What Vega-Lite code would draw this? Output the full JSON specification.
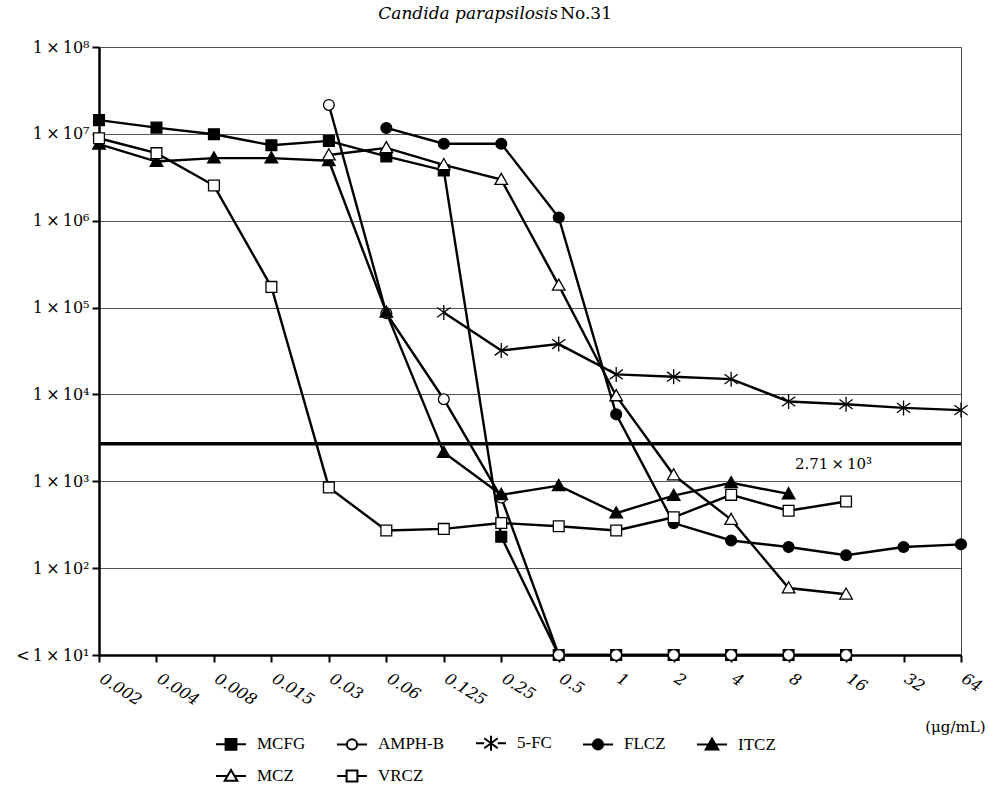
{
  "$schema": "https://vega.github.io/schema/vega-lite/v6.json",
  "autosize": "none",
  "padding": {"left": 99, "top": 47, "right": 28, "bottom": 140},
  "width": 862,
  "height": 608,
  "background": "white",
  "config": {
    "view": {"stroke": "#444", "strokeWidth": 1},
    "legend": {
      "orient": "none",
      "legendX": 116,
      "legendY": 680,
      "columns": 5,
      "direction": "horizontal",
      "symbolSize": 900,
      "symbolStrokeWidth": 2,
      "labelFont": "Liberation Serif",
      "labelFontSize": 17,
      "labelColor": "black",
      "labelOffset": 10,
      "columnPadding": 27,
      "rowPadding": 5,
      "title": null
    }
  },
  "title": {
    "text": "Candida parapsilosis\u00a0\u00a0\u00a0\u00a0\u00a0\u00a0\u00a0\u00a0\u00a0\u00a0\u200b",
    "subtitle": "No.31",
    "font": "DejaVu Serif",
    "fontSize": 17,
    "fontStyle": "italic",
    "fontWeight": "normal",
    "color": "black",
    "subtitleFont": "DejaVu Serif",
    "subtitleFontSize": 17,
    "subtitleFontStyle": "normal",
    "subtitleColor": "black",
    "subtitlePadding": -17,
    "anchor": "middle",
    "align": "right",
    "dx": 82,
    "offset": 16
  },
  "datasets": {
    "cfu": [
      {"drug": "MCFG", "conc": 0.002, "cfu": 14400000},
      {"drug": "MCFG", "conc": 0.004, "cfu": 11800000},
      {"drug": "MCFG", "conc": 0.008, "cfu": 9900000},
      {"drug": "MCFG", "conc": 0.015, "cfu": 7400000},
      {"drug": "MCFG", "conc": 0.03, "cfu": 8300000},
      {"drug": "MCFG", "conc": 0.06, "cfu": 5500000},
      {"drug": "MCFG", "conc": 0.125, "cfu": 3800000},
      {"drug": "MCFG", "conc": 0.25, "cfu": 230},
      {"drug": "MCFG", "conc": 0.5, "cfu": 10},
      {"drug": "MCFG", "conc": 1, "cfu": 10},
      {"drug": "MCFG", "conc": 2, "cfu": 10},
      {"drug": "MCFG", "conc": 4, "cfu": 10},
      {"drug": "MCFG", "conc": 8, "cfu": 10},
      {"drug": "MCFG", "conc": 16, "cfu": 10},
      {"drug": "AMPH-B", "conc": 0.03, "cfu": 21500000},
      {"drug": "AMPH-B", "conc": 0.06, "cfu": 86000},
      {"drug": "AMPH-B", "conc": 0.125, "cfu": 8800},
      {"drug": "AMPH-B", "conc": 0.25, "cfu": 650},
      {"drug": "AMPH-B", "conc": 0.5, "cfu": 10},
      {"drug": "AMPH-B", "conc": 1, "cfu": 10},
      {"drug": "AMPH-B", "conc": 2, "cfu": 10},
      {"drug": "AMPH-B", "conc": 4, "cfu": 10},
      {"drug": "AMPH-B", "conc": 8, "cfu": 10},
      {"drug": "AMPH-B", "conc": 16, "cfu": 10},
      {"drug": "5-FC", "conc": 0.125, "cfu": 88000},
      {"drug": "5-FC", "conc": 0.25, "cfu": 32000},
      {"drug": "5-FC", "conc": 0.5, "cfu": 38000},
      {"drug": "5-FC", "conc": 1, "cfu": 17000},
      {"drug": "5-FC", "conc": 2, "cfu": 16000},
      {"drug": "5-FC", "conc": 4, "cfu": 15000},
      {"drug": "5-FC", "conc": 8, "cfu": 8300},
      {"drug": "5-FC", "conc": 16, "cfu": 7700},
      {"drug": "5-FC", "conc": 32, "cfu": 7000},
      {"drug": "5-FC", "conc": 64, "cfu": 6600},
      {"drug": "FLCZ", "conc": 0.06, "cfu": 11700000},
      {"drug": "FLCZ", "conc": 0.125, "cfu": 7700000},
      {"drug": "FLCZ", "conc": 0.25, "cfu": 7700000},
      {"drug": "FLCZ", "conc": 0.5, "cfu": 1090000},
      {"drug": "FLCZ", "conc": 1, "cfu": 5900},
      {"drug": "FLCZ", "conc": 2, "cfu": 330},
      {"drug": "FLCZ", "conc": 4, "cfu": 208},
      {"drug": "FLCZ", "conc": 8, "cfu": 175},
      {"drug": "FLCZ", "conc": 16, "cfu": 141},
      {"drug": "FLCZ", "conc": 32, "cfu": 175},
      {"drug": "FLCZ", "conc": 64, "cfu": 188},
      {"drug": "ITCZ", "conc": 0.002, "cfu": 7600000},
      {"drug": "ITCZ", "conc": 0.004, "cfu": 4800000},
      {"drug": "ITCZ", "conc": 0.008, "cfu": 5250000},
      {"drug": "ITCZ", "conc": 0.015, "cfu": 5250000},
      {"drug": "ITCZ", "conc": 0.03, "cfu": 4900000},
      {"drug": "ITCZ", "conc": 0.06, "cfu": 88000},
      {"drug": "ITCZ", "conc": 0.125, "cfu": 2140},
      {"drug": "ITCZ", "conc": 0.25, "cfu": 700},
      {"drug": "ITCZ", "conc": 0.5, "cfu": 890},
      {"drug": "ITCZ", "conc": 1, "cfu": 430},
      {"drug": "ITCZ", "conc": 2, "cfu": 685},
      {"drug": "ITCZ", "conc": 4, "cfu": 960},
      {"drug": "ITCZ", "conc": 8, "cfu": 715},
      {"drug": "MCZ", "conc": 0.03, "cfu": 5700000},
      {"drug": "MCZ", "conc": 0.06, "cfu": 6900000},
      {"drug": "MCZ", "conc": 0.125, "cfu": 4400000},
      {"drug": "MCZ", "conc": 0.25, "cfu": 2970000},
      {"drug": "MCZ", "conc": 0.5, "cfu": 180000},
      {"drug": "MCZ", "conc": 1, "cfu": 9600},
      {"drug": "MCZ", "conc": 2, "cfu": 1180},
      {"drug": "MCZ", "conc": 4, "cfu": 362},
      {"drug": "MCZ", "conc": 8, "cfu": 59},
      {"drug": "MCZ", "conc": 16, "cfu": 50},
      {"drug": "VRCZ", "conc": 0.002, "cfu": 8900000},
      {"drug": "VRCZ", "conc": 0.004, "cfu": 6000000},
      {"drug": "VRCZ", "conc": 0.008, "cfu": 2540000},
      {"drug": "VRCZ", "conc": 0.015, "cfu": 173000},
      {"drug": "VRCZ", "conc": 0.03, "cfu": 850},
      {"drug": "VRCZ", "conc": 0.06, "cfu": 271},
      {"drug": "VRCZ", "conc": 0.125, "cfu": 283},
      {"drug": "VRCZ", "conc": 0.25, "cfu": 331},
      {"drug": "VRCZ", "conc": 0.5, "cfu": 304},
      {"drug": "VRCZ", "conc": 1, "cfu": 271},
      {"drug": "VRCZ", "conc": 2, "cfu": 385},
      {"drug": "VRCZ", "conc": 4, "cfu": 698},
      {"drug": "VRCZ", "conc": 8, "cfu": 458},
      {"drug": "VRCZ", "conc": 16, "cfu": 585}
    ],
    "limit": [
      {"cfu": 2710, "conc": 16, "label": "2.71\u2009×\u200910³"}
    ]
  },
  "encoding": {
    "x": {
      "field": "conc",
      "type": "ordinal",
      "scale": {"type": "point", "padding": 0, "domain": [0.002, 0.004, 0.008, 0.015, 0.03, 0.06, 0.125, 0.25, 0.5, 1, 2, 4, 8, 16, 32, 64]},
      "axis": {
        "title": "(μg/mL)",
        "titleFont": "DejaVu Serif",
        "titleFontSize": 15,
        "titleFontWeight": "normal",
        "titleColor": "black",
        "titleX": 886,
        "titleY": 71,
        "titleAlign": "right",
        "titleBaseline": "middle",
        "labelFont": "DejaVu Serif",
        "labelFontSize": 16,
        "labelFontStyle": "italic",
        "labelColor": "black",
        "labelAngle": 32,
        "labelAlign": "left",
        "labelBaseline": "top",
        "labelPadding": 8,
        "labelOffset": 6,
        "labelOverlap": false,
        "domainColor": "black",
        "domainWidth": 2.5,
        "tickColor": "black",
        "tickWidth": 2,
        "tickSize": 7,
        "grid": false
      }
    },
    "y": {
      "field": "cfu",
      "type": "quantitative",
      "scale": {"type": "log", "domain": [10, 100000000], "nice": false},
      "axis": {
        "title": null,
        "values": [10, 100, 1000, 10000, 100000, 1000000, 10000000, 100000000],
        "labelExpr": "datum.value == 10 ? '<\u20091\u2009×\u200910¹' : '1\u2009×\u200910' + ['','¹','²','³','⁴','⁵','⁶','⁷','⁸'][round(log(datum.value)/LN10)]",
        "labelFont": "DejaVu Serif",
        "labelFontSize": 16,
        "labelColor": "black",
        "labelPadding": 3,
        "domainColor": "black",
        "domainWidth": 2.5,
        "tickColor": "black",
        "tickWidth": 2,
        "tickSize": 7,
        "grid": true,
        "gridColor": "#555",
        "gridWidth": 1.2
      }
    }
  },
  "layer": [
    {
      "data": {"name": "cfu"},
      "mark": {"type": "line", "color": "black", "strokeWidth": 2.4},
      "encoding": {
        "detail": {"field": "drug"},
        "order": {"field": "conc", "type": "quantitative"}
      }
    },
    {
      "data": {"name": "limit"},
      "mark": {"type": "rule", "color": "black", "strokeWidth": 3.5},
      "encoding": {"x": null}
    },
    {
      "data": {"name": "limit"},
      "mark": {"type": "text", "font": "DejaVu Serif", "fontSize": 15, "color": "black", "align": "right", "baseline": "middle", "dx": 26, "dy": 20},
      "encoding": {"text": {"field": "label"}}
    },
    {
      "data": {"name": "cfu"},
      "mark": {"type": "point", "filled": true, "opacity": 1, "stroke": "black", "strokeWidth": 1.3, "size": 144},
      "encoding": {
        "shape": {
          "field": "drug",
          "legend": null,
          "scale": {
            "domain": ["MCFG", "AMPH-B", "5-FC", "FLCZ", "ITCZ", "MCZ", "VRCZ"],
            "range": [
              "M-0.9,-0.9H0.9V0.9H-0.9Z",
              "M0.9,0A0.9,0.9 0 1,1 -0.9,0A0.9,0.9 0 1,1 0.9,0Z",
              "M-1.1,-0.8L1.1,0.8M-1.1,0.8L1.1,-0.8M0,-1.25V1.25",
              "M0.9,0A0.9,0.9 0 1,1 -0.9,0A0.9,0.9 0 1,1 0.9,0Z",
              "M0,-1.05L1.05,0.8H-1.05Z",
              "M0,-1.05L1.05,0.8H-1.05Z",
              "M-0.9,-0.9H0.9V0.9H-0.9Z"
            ]
          }
        },
        "fill": {
          "field": "drug",
          "legend": null,
          "scale": {
            "domain": ["MCFG", "AMPH-B", "5-FC", "FLCZ", "ITCZ", "MCZ", "VRCZ"],
            "range": ["black", "white", "white", "black", "black", "white", "white"]
          }
        }
      }
    },
    {
      "data": {"name": "cfu"},
      "transform": [{"filter": "datum.cfu < 0"}],
      "mark": {"type": "point", "filled": true, "opacity": 1, "stroke": "black", "strokeWidth": 2, "size": 900},
      "encoding": {
        "shape": {
          "field": "drug",
          "legend": {
            "title": null,
            "encode": {"symbols": {"stroke": {"value": "black"}, "strokeWidth": {"value": 2}, "opacity": {"value": 1}}}
          },
          "scale": {
            "domain": ["MCFG", "AMPH-B", "5-FC", "FLCZ", "ITCZ", "MCZ", "VRCZ"],
            "range": [
              "M-1,0H-0.36M0.36,0H1M-0.36,-0.36H0.36V0.36H-0.36Z",
              "M-1,0H-0.34M0.34,0H1M0.34,0A0.34,0.34 0 1,1 -0.34,0A0.34,0.34 0 1,1 0.34,0Z",
              "M-1,0H-0.45M0.45,0H1M-0.45,-0.33L0.45,0.33M-0.45,0.33L0.45,-0.33M0,-0.5V0.5",
              "M-1,0H-0.34M0.34,0H1M0.34,0A0.34,0.34 0 1,1 -0.34,0A0.34,0.34 0 1,1 0.34,0Z",
              "M-1,0H-0.23M0.23,0H1M0,-0.4L0.42,0.32H-0.42Z",
              "M-1,0H-0.23M0.23,0H1M0,-0.4L0.42,0.32H-0.42Z",
              "M-1,0H-0.36M0.36,0H1M-0.36,-0.36H0.36V0.36H-0.36Z"
            ]
          }
        },
        "fill": {
          "field": "drug",
          "legend": {
            "title": null,
            "encode": {"symbols": {"stroke": {"value": "black"}, "strokeWidth": {"value": 2}, "opacity": {"value": 1}}}
          },
          "scale": {
            "domain": ["MCFG", "AMPH-B", "5-FC", "FLCZ", "ITCZ", "MCZ", "VRCZ"],
            "range": ["black", "white", "white", "black", "black", "white", "white"]
          }
        }
      }
    }
  ],
  "resolve": {"scale": {"shape": "independent", "fill": "independent"}, "legend": {"shape": "independent", "fill": "independent"}}
}
